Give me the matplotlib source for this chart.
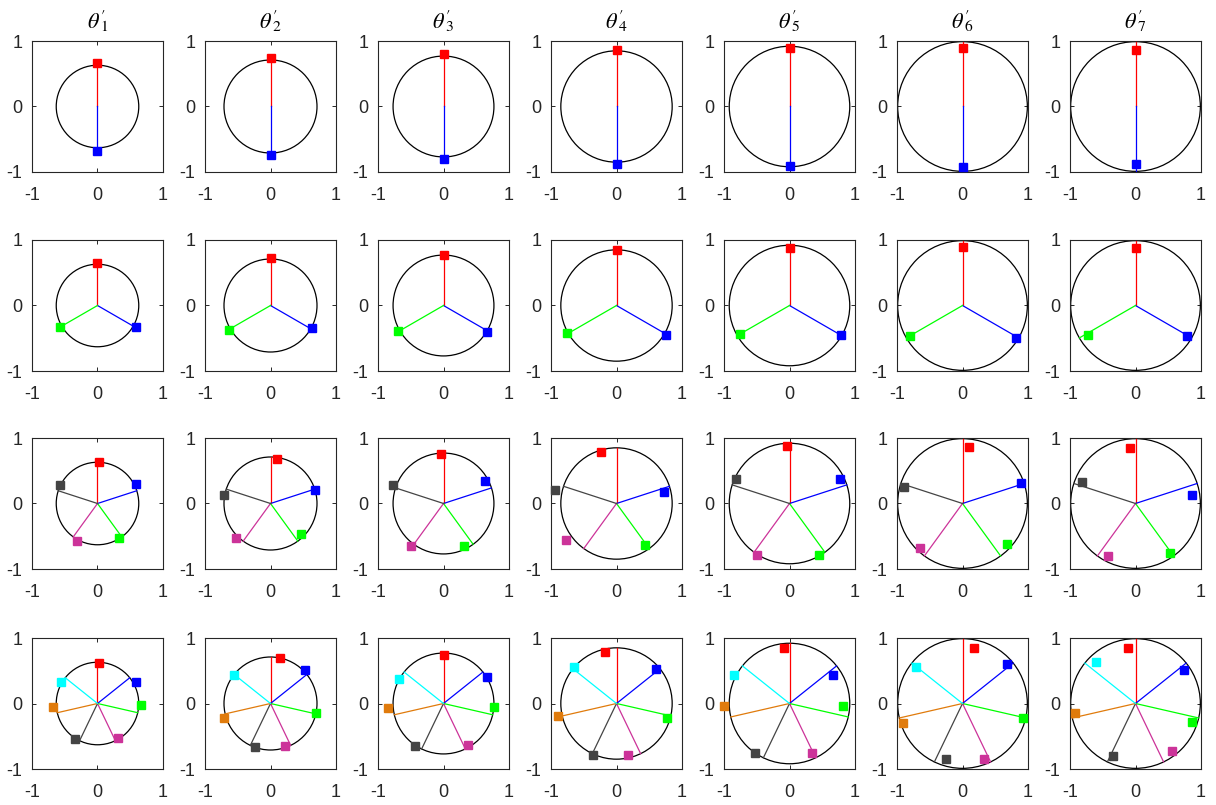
import matplotlib
matplotlib.use("Agg")
import numpy as np
import matplotlib.pyplot as plt
from matplotlib.patches import Circle

plt.rcParams['axes.unicode_minus'] = False
plt.rcParams['mathtext.fontset'] = 'stix'
plt.rcParams['font.family'] = ['Liberation Sans', 'DejaVu Sans']

# circle radius for each column (theta'_1 .. theta'_7)
radii = [0.63, 0.71, 0.77, 0.85, 0.92, 0.99, 0.99]

# ray directions (degrees) for each row
angles_2 = [90, 270]
angles_3 = [90, -30, 210]
angles_5 = [90, 18, -54, -126, 162]
angles_7 = [90, 38.6, -12.9, -64.3, -115.7, -167.1, 141.4]

colors_2 = ['#ff0000', '#0000ff']
colors_3 = ['#ff0000', '#0000ff', '#00ff00']
colors_5 = ['#ff0000', '#0000ff', '#00ff00', '#cc3399', '#444444']
colors_7 = ['#ff0000', '#0000ff', '#00ff00', '#cc3399', '#444444', '#e07b0c', '#00ffff']

# marker positions, one list per column, one entry per ray
pts_x_2 = [[0, 0]] * 7
pts_y_2 = [[0.67, -0.68], [0.74, -0.74], [0.80, -0.80], [0.86, -0.88],
           [0.89, -0.91], [0.90, -0.93], [0.86, -0.88]]

pts_x_3 = [[0, 0.59, -0.57], [0, 0.63, -0.63], [0, 0.67, -0.69], [0, 0.75, -0.75],
           [0, 0.78, -0.75], [0, 0.81, -0.80], [0, 0.79, -0.73]]
pts_y_3 = [[0.65, -0.33, -0.33], [0.73, -0.35, -0.38], [0.77, -0.41, -0.39],
           [0.85, -0.45, -0.42], [0.88, -0.45, -0.44], [0.89, -0.50, -0.47],
           [0.88, -0.47, -0.45]]

pts_x_5 = [[0.03, 0.59, 0.33, -0.32, -0.58],
           [0.10, 0.68, 0.47, -0.52, -0.71],
           [-0.04, 0.63, 0.31, -0.49, -0.77],
           [-0.24, 0.73, 0.44, -0.77, -0.94],
           [-0.04, 0.77, 0.45, -0.49, -0.82],
           [0.10, 0.89, 0.68, -0.65, -0.90],
           [-0.08, 0.87, 0.53, -0.42, -0.82]]
pts_y_5 = [[0.63, 0.30, -0.52, -0.57, 0.28],
           [0.68, 0.20, -0.47, -0.53, 0.13],
           [0.76, 0.35, -0.65, -0.65, 0.28],
           [0.78, 0.18, -0.63, -0.55, 0.20],
           [0.88, 0.38, -0.78, -0.78, 0.38],
           [0.86, 0.31, -0.62, -0.68, 0.25],
           [0.85, 0.13, -0.75, -0.80, 0.33]]

pts_x_7 = [[0.03, 0.59, 0.67, 0.31, -0.34, -0.68, -0.55],
           [0.15, 0.53, 0.70, 0.22, -0.23, -0.71, -0.56],
           [0.00, 0.67, 0.77, 0.37, -0.43, -0.84, -0.68],
           [-0.18, 0.60, 0.77, 0.17, -0.36, -0.90, -0.65],
           [-0.08, 0.67, 0.81, 0.34, -0.53, -1.00, -0.85],
           [0.18, 0.68, 0.93, 0.33, -0.25, -0.91, -0.71],
           [-0.11, 0.74, 0.87, 0.55, -0.34, -0.92, -0.61]]
pts_y_7 = [[0.62, 0.33, -0.02, -0.52, -0.54, -0.05, 0.33],
           [0.69, 0.51, -0.15, -0.65, -0.67, -0.22, 0.44],
           [0.74, 0.41, -0.05, -0.64, -0.65, -0.07, 0.38],
           [0.79, 0.53, -0.22, -0.78, -0.78, -0.19, 0.56],
           [0.85, 0.44, -0.04, -0.75, -0.76, -0.04, 0.44],
           [0.84, 0.61, -0.22, -0.85, -0.85, -0.30, 0.56],
           [0.84, 0.51, -0.29, -0.73, -0.80, -0.15, 0.64]]

rows = [
    (angles_2, colors_2, pts_x_2, pts_y_2),
    (angles_3, colors_3, pts_x_3, pts_y_3),
    (angles_5, colors_5, pts_x_5, pts_y_5),
    (angles_7, colors_7, pts_x_7, pts_y_7),
]

W, H = 1216, 805
fig = plt.figure(figsize=(W / 100, H / 100), dpi=100)

lefts = [32, 205, 378, 551, 724, 897, 1070]
tops = [41, 240, 438, 638]
size = 131

for i, (angles, colors, px, py) in enumerate(rows):
    for j, r in enumerate(radii):
        ax = fig.add_axes([lefts[j] / W, 1 - (tops[i] + size) / H, size / W, size / H])
        ax.add_patch(Circle((0, 0), r, fill=False, ec='black', lw=0.9, zorder=2))
        for k, a in enumerate(angles):
            t = np.deg2rad(a)
            ax.plot([0, r * np.cos(t)], [0, r * np.sin(t)], color=colors[k], lw=0.9, zorder=3)
            ax.plot(px[j][k], py[j][k], 's', color=colors[k], ms=6.2, mec=colors[k],
                    zorder=4, clip_on=False)
        ax.set_xlim(-1, 1)
        ax.set_ylim(-1, 1)
        ax.set_xticks([-1, 0, 1])
        ax.set_yticks([-1, 0, 1])
        ax.set_xticklabels(['-1', '0', '1'])
        ax.set_yticklabels(['-1', '0', '1'])
        ax.tick_params(direction='in', length=3, width=0.7, top=True, right=True,
                       labelsize=13, colors='#262626')
        ax.tick_params(axis='x', pad=11)
        ax.tick_params(axis='y', pad=7)
        for s in ax.spines.values():
            s.set_color('#262626')
            s.set_linewidth(0.8)
        if i == 0:
            ax.set_title(r"$\theta'_{\!\!\!%d}$" % (j + 1), fontsize=16, pad=9)

fig.savefig('out.png', dpi=100)
